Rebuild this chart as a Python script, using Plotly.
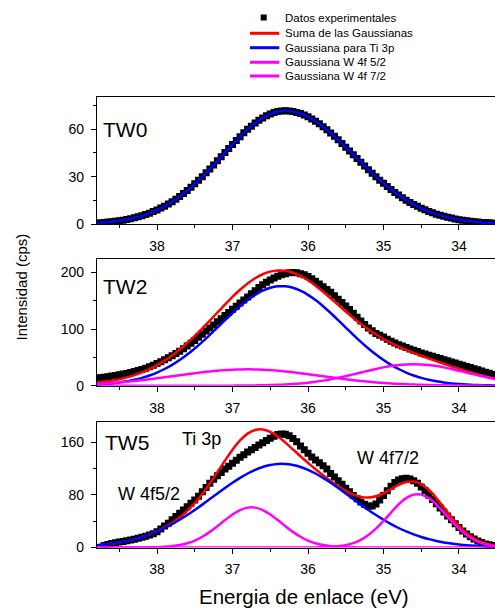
import numpy as np
import plotly.graph_objects as go

# ---------------- data ----------------
tw0_start = 38.75
tw0_data = [1.0, 1.2, 1.4, 1.6, 1.9, 2.2, 2.6, 3.0, 3.5, 4.1,
            4.7, 5.4, 6.1, 7.0, 8.0, 9.0, 10.2, 11.4, 12.8, 14.2,
            15.8, 17.5, 19.4, 21.3, 23.3, 25.5, 27.7, 30.0, 32.4, 34.9,
            37.4, 40.0, 42.6, 45.2, 47.8, 50.3, 52.8, 55.2, 57.6, 59.8,
            61.8, 63.8, 65.5, 67.0, 68.4, 69.5, 70.4, 71.0, 71.4, 71.5,
            71.4, 71.1, 70.5, 69.8, 68.9, 67.7, 66.4, 64.9, 63.3, 61.5,
            59.6, 57.5, 55.4, 53.2, 50.9, 48.6, 46.2, 43.8, 41.5, 39.1,
            36.7, 34.4, 32.2, 30.0, 27.8, 25.8, 23.8, 21.9, 20.1, 18.4,
            16.8, 15.2, 13.8, 12.5, 11.3, 10.1, 9.1, 8.1, 7.2, 6.4,
            5.7, 5.0, 4.4, 3.9, 3.4, 2.9, 2.6, 2.2, 1.9, 1.6,
            1.4, 1.2, 1.0, 0.9, 0.7, 0.6]

tw2_start = 38.80
tw2_data = [13.5, 14, 15, 16, 17, 18.2, 19.4, 20.6, 21.6, 23.2,
            25, 26.8, 28.8, 31, 33.5, 36, 39.2, 42.5, 46, 49.5,
            53, 57, 61, 65.5, 70, 75, 80, 85.5, 91, 96.5,
            102, 107.5, 113, 118.5, 124, 129.5, 135, 140.5, 146, 151.5,
            157, 162.5, 168, 173.5, 178.5, 183, 187, 190.5, 193.5, 196,
            198, 199.5, 200, 199.5, 198, 196, 193, 189, 184.5, 180,
            175, 170, 165, 159, 153, 147, 141, 134.5, 128, 121,
            114.5, 108, 102, 97, 92.5, 89, 86, 82, 78.5, 75.5,
            72.5, 70, 67.5, 65, 62.5, 60.5, 58, 56, 54, 52,
            50, 48, 46, 44, 42, 40, 38, 36, 34, 32,
            30, 28, 26, 24, 22, 20, 18.5]

tw5_start = 38.70
tw5_data = [3, 4.5, 6, 7.2, 8.2, 9.2, 10.2, 11.5, 12.7, 14,
            15.5, 17, 19, 21, 24, 28, 32.5, 37, 42, 47,
            52, 57, 62, 67, 72, 78, 84.5, 91, 97.5, 103.5,
            109, 114, 119, 123.5, 128, 132.5, 137, 141, 145, 148.5,
            152, 155.5, 159, 162.5, 166, 169, 171.5, 172.5, 172, 169.5,
            165.5, 160.5, 154, 148.5, 143, 137.5, 133, 128.5, 124, 119,
            112.5, 107, 101.5, 96, 90, 84.5, 79, 74, 69, 65.5,
            63, 63, 66, 72, 79, 86, 93, 98.5, 102.5, 104.5,
            105, 104, 101.5, 97.5, 92, 86, 79.5, 73, 66.5, 60,
            54, 48, 42, 36, 30.5, 25, 20.5, 16.5, 13, 10,
            7.5, 5.5, 4, 3, 2]

fit_start = 38.8
tw0_ti3p = [0.8, 1.2, 1.6, 2.2, 3.0, 4.1, 5.4, 7.0, 9.0, 11.4,
            14.2, 17.5, 21.3, 25.5, 30.0, 34.9, 40.0, 45.2, 50.3, 55.2,
            59.8, 63.8, 67.0, 69.5, 71.0, 71.5, 71.1, 69.8, 67.7, 64.9,
            61.5, 57.5, 53.2, 48.6, 43.8, 39.1, 34.4, 30.0, 25.8, 21.9,
            18.4, 15.2, 12.5, 10.1, 8.1, 6.4, 5.0, 3.9, 2.9, 2.2,
            1.6, 1.2, 0.9, 0.6]

tw2_sum = [5.19, 6.82, 8.90, 11.51, 14.75, 18.76, 23.60, 29.43, 36.31, 44.33,
           53.54, 63.90, 75.41, 87.94, 101.31, 115.22, 129.43, 143.50, 157.04, 169.58,
           180.70, 189.97, 197.08, 201.70, 203.70, 203.03, 199.78, 194.12, 186.36, 176.92,
           166.22, 154.71, 142.88, 131.13, 119.80, 109.17, 99.37, 90.51, 82.59, 75.52,
           69.17, 63.39, 58.05, 52.98, 48.12, 43.37, 38.73, 34.18, 29.79, 25.58,
           21.64, 18.00, 14.72, 11.82]
tw2_ti3p = [2.03, 2.90, 4.08, 5.66, 7.73, 10.42, 13.81, 18.06, 23.25, 29.50,
            36.87, 45.39, 55.07, 65.84, 77.55, 89.97, 102.85, 115.84, 128.55, 140.55,
            151.40, 160.67, 168.01, 173.08, 175.67, 175.67, 173.08, 168.01, 160.67, 151.40,
            140.55, 128.55, 115.84, 102.85, 89.97, 77.55, 65.84, 55.07, 45.39, 36.87,
            29.50, 23.25, 18.06, 13.81, 10.42, 7.73, 5.66, 4.08, 2.90, 2.03,
            1.40, 0.95, 0.64, 0.42]
tw2_w52 = [3.16, 3.92, 4.82, 5.85, 7.02, 8.34, 9.79, 11.37, 13.06, 14.83,
           16.67, 18.51, 20.34, 22.10, 23.76, 25.25, 26.54, 27.59, 28.37, 28.84,
           29.00, 28.84, 28.37, 27.59, 26.54, 25.25, 23.76, 22.10, 20.34, 18.51,
           16.67, 14.83, 13.06, 11.37, 9.79, 8.34, 7.02, 5.85, 4.82, 3.92,
           3.16, 2.52, 1.99, 1.55, 1.19, 0.91, 0.69, 0.51, 0.38, 0.27,
           0.20, 0.14, 0.10, 0.07]
tw2_w72 = [0, 0, 0, 0, 0, 0, 0, 0, 0, 0,
           0, 0, 0, 0, 0.01, 0.03, 0.04, 0.07, 0.12, 0.19,
           0.30, 0.46, 0.70, 1.03, 1.49, 2.11, 2.94, 4.01, 5.35, 7.01,
           9.00, 11.33, 13.98, 16.91, 20.04, 23.28, 26.51, 29.59, 32.38, 34.73,
           36.51, 37.62, 38.00, 37.62, 36.51, 34.73, 32.38, 29.59, 26.51, 23.28,
           20.04, 16.91, 13.98, 11.33]

tw5_sum = [3.34, 4.47, 5.91, 7.71, 9.96, 12.70, 16.05, 20.05, 24.85, 30.59,
           37.47, 45.72, 55.64, 67.50, 81.40, 97.19, 114.37, 131.91, 148.49, 162.59,
           172.87, 178.44, 179.14, 175.46, 168.41, 159.21, 148.98, 138.59, 128.49, 118.87,
           109.74, 101.11, 93.10, 86.04, 80.40, 76.84, 75.88, 77.80, 82.37, 88.62,
           94.91, 99.34, 100.15, 96.26, 87.62, 75.25, 60.81, 46.20, 33.01, 22.21,
           14.11, 8.51, 4.91, 2.73]
tw5_ti3p = [3.34, 4.47, 5.91, 7.71, 9.95, 12.67, 15.96, 19.85, 24.39, 29.61,
            35.52, 42.08, 49.26, 56.98, 65.11, 73.49, 81.97, 90.31, 98.31, 105.73,
            112.34, 117.91, 122.28, 125.28, 126.81, 126.81, 125.28, 122.28, 117.91, 112.34,
            105.73, 98.31, 90.31, 81.97, 73.49, 65.11, 56.98, 49.26, 42.08, 35.52,
            29.61, 24.39, 19.85, 15.96, 12.67, 9.95, 7.71, 5.91, 4.47, 3.34,
            2.47, 1.80, 1.30, 0.92]
tw5_w52 = [0, 0, 0, 0, 0.01, 0.03, 0.09, 0.20, 0.46, 0.98,
           1.95, 3.64, 6.38, 10.52, 16.29, 23.70, 32.40, 41.60, 50.18, 56.86,
           60.53, 60.53, 56.86, 50.18, 41.60, 32.40, 23.70, 16.29, 10.52, 6.38,
           3.64, 1.95, 0.98, 0.46, 0.20, 0.09, 0.03, 0.01, 0, 0,
           0, 0, 0, 0, 0, 0, 0, 0, 0, 0,
           0, 0, 0, 0]
tw5_w72 = [0, 0, 0, 0, 0, 0, 0, 0, 0, 0,
           0, 0, 0, 0, 0, 0, 0, 0, 0, 0,
           0, 0, 0, 0, 0, 0, 0, 0.02, 0.06, 0.15,
           0.37, 0.85, 1.81, 3.61, 6.71, 11.64, 18.87, 28.54, 40.29, 53.10,
           65.30, 74.95, 80.30, 80.30, 74.95, 65.30, 53.10, 40.29, 28.54, 18.87,
           11.64, 6.71, 3.61, 1.81]

panel_names = ["TW0", "TW2", "TW5"]
y_tickvals = [[0, 30, 60], [0, 100, 200], [0, 80, 160]]
y_minor = [15, 50, 40]
y_ranges = [[0, 80], [0, 224], [0, 191]]
x_tickvals = [38, 37, 36, 35, 34]
legend_labels = ["Datos experimentales", "Suma de las Gaussianas",
                 "Gaussiana para Ti 3p", "Gaussiana W 4f 5/2", "Gaussiana W 4f 7/2"]


def grid(start, n, step):
    return np.round(start - step * np.arange(n), 2)


W, H = 495, 608
FONT = "Liberation Sans, Arial, Helvetica, sans-serif"
RED, BLUE, MAG = "#ff0000", "#0000ff", "#ff00ff"

fig = go.Figure()

boxes = [(97.3, 224.3), (259.0, 385.7), (421.7, 547.5)]
xl = 97.0

data_sets = [(tw0_start, tw0_data), (tw2_start, tw2_data), (tw5_start, tw5_data)]
fits = [[(tw0_ti3p, BLUE)],
        [(tw2_sum, RED), (tw2_ti3p, BLUE), (tw2_w52, MAG), (tw2_w72, MAG)],
        [(tw5_sum, RED), (tw5_ti3p, BLUE), (tw5_w52, MAG), (tw5_w72, MAG)]]

for i in range(3):
    sfx = "" if i == 0 else str(i + 1)
    start, vals = data_sets[i]
    fig.add_trace(go.Scatter(
        x=grid(start, len(vals), 0.05), y=vals, mode="markers",
        marker=dict(symbol="square", size=7, color="black", line=dict(width=0)),
        xaxis="x" + sfx, yaxis="y" + sfx, showlegend=False, hoverinfo="skip"))
    for vals_f, col in fits[i]:
        fig.add_trace(go.Scatter(
            x=grid(fit_start, len(vals_f), 0.1), y=vals_f, mode="lines",
            line=dict(color=col, width=2.5, shape="spline", smoothing=0.8),
            xaxis="x" + sfx, yaxis="y" + sfx, showlegend=False, hoverinfo="skip"))

axis_common = dict(showline=True, linecolor="black", linewidth=1.2,
                   ticks="outside", tickcolor="black", tickwidth=1.2, ticklen=5,
                   showgrid=False, zeroline=False, automargin=False,
                   tickfont=dict(family=FONT, size=14, color="black"))

layout = dict(width=W, height=H, autosize=False, margin=dict(l=0, r=0, t=0, b=0, pad=0),
              paper_bgcolor="white", plot_bgcolor="white", showlegend=False,
              template="none")

for i in range(3):
    sfx = "" if i == 0 else str(i + 1)
    top, bot = boxes[i]
    layout["xaxis" + sfx] = dict(
        axis_common, domain=[xl / W, 1.0], range=[38.795, 33.523],
        tickvals=x_tickvals, mirror=True, anchor="y" + sfx,
        ticklabelstandoff=4,
        minor=dict(dtick=0.5, tick0=34, ticks="outside", ticklen=3,
                   tickwidth=1.2, tickcolor="black"))
    layout["yaxis" + sfx] = dict(
        axis_common, domain=[1 - bot / H, 1 - top / H], range=y_ranges[i],
        tickvals=y_tickvals[i], anchor="x" + sfx, ticklabelstandoff=4,
        minor=dict(dtick=y_minor[i], tick0=0, ticks="outside", ticklen=3,
                   tickwidth=1.2, tickcolor="black"))

fig.update_layout(**layout)

def ann(text, xp, yp, size, xanchor="left", angle=0):
    fig.add_annotation(text=text, x=xp / W, y=1 - yp / H, xref="paper", yref="paper",
                       xanchor=xanchor, yanchor="middle", showarrow=False,
                       textangle=angle, font=dict(family=FONT, size=size, color="black"))

ann("TW0", 101.0, 129.0, 21)
ann("TW2", 101.0, 286.0, 21)
ann("TW5", 102.5, 442.0, 21)
ann("Ti 3p", 201.7, 439.0, 18, xanchor="center")
ann("W 4f5/2", 149.3, 494.0, 18, xanchor="center")
ann("W 4f7/2", 388.0, 458.0, 18, xanchor="center")
ann("Energia de enlace (eV)", 304.0, 596.0, 20.5, xanchor="center")
ann("Intensidad (cps)", 20.5, 287.0, 15, xanchor="center", angle=-90)

leg_y = [17.5, 33.3, 47.7, 62.3, 76.0]
leg_col = [None, RED, BLUE, MAG, MAG]
for k, lab in enumerate(legend_labels):
    y = leg_y[k]
    if k == 0:
        fig.add_shape(type="rect", xref="paper", yref="paper",
                      x0=260.7 / W, x1=266.7 / W, y0=1 - (y - 3) / H, y1=1 - (y + 3) / H,
                      fillcolor="black", line=dict(width=0))
    else:
        fig.add_shape(type="line", xref="paper", yref="paper",
                      x0=250 / W, x1=279.3 / W, y0=1 - y / H, y1=1 - y / H,
                      line=dict(color=leg_col[k], width=3))
    ann(lab, 283.3, y, 11.5)

fig.write_html("out.html", config={"responsive": False})
